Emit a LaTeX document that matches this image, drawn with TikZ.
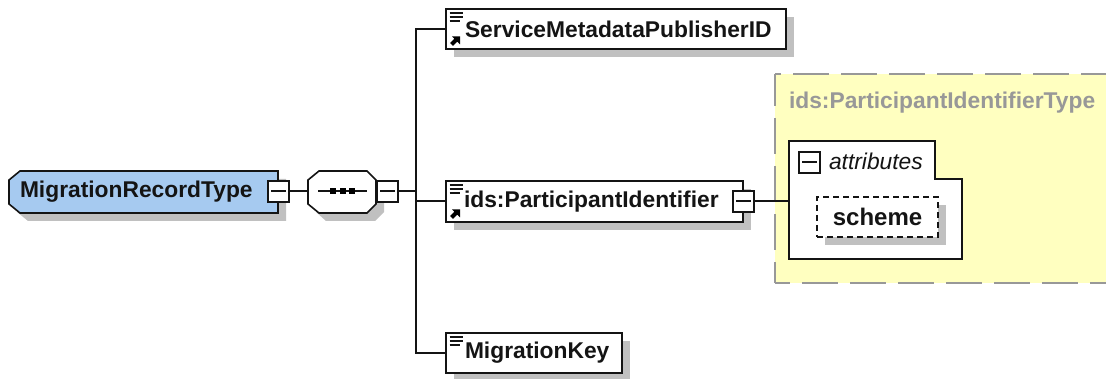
\documentclass[tikz,border=0pt]{standalone}
\usepackage{fontspec}
\setmainfont{Liberation Sans}
\definecolor{rootblue}{HTML}{A6CAF0}
\definecolor{shadowgray}{HTML}{C0C0C0}
\definecolor{typeyellow}{HTML}{FFFFC0}
\definecolor{typegray}{HTML}{989898}
\definecolor{inkdark}{HTML}{141414}
\tikzset{
  x=1pt,y=-1pt,
  every node/.style={inner sep=0pt,outer sep=0pt},
  wire/.style={draw=inkdark,line width=1.6pt},
  outline/.style={draw=inkdark,line width=1.6pt},
  shade/.style={fill=shadowgray},
  boxlabel/.style={font=\fontsize{22.8}{23}\selectfont\bfseries,text=inkdark,anchor=west},
  place/.style={rectangle,anchor=north west},
  elem/.style={place,outline,fill=white},
  expander/.style={place,outline,fill=white,minimum width=21pt,minimum height=21pt,
    path picture={\draw[inkdark,line width=1.6pt]
      ([xshift=3pt,yshift=0.5pt]path picture bounding box.west) -- ([xshift=-3pt,yshift=0.5pt]path picture bounding box.east);}},
  panelline/.style={draw=typegray,line width=1.7pt},
}
\newcommand{\docmark}[2]{%
  \draw[inkdark,line width=1.7pt] (#1+3.5,#2+4) -- ++(13,0);
  \draw[inkdark,line width=1.7pt] (#1+3.5,#2+8) -- ++(13,0);
  \draw[inkdark,line width=1.7pt] (#1+3.5,#2+12) -- ++(10,0);
}
\newcommand{\refmark}[2]{%
  \fill[black] (#1+6,#2-12.5) -- (#1+14,#2-12.5) -- (#1+14,#2-4.5) -- (#1+11.2,#2-7.3) -- (#1+7,#2-3) -- (#1+4,#2-6) -- (#1+8.3,#2-10.2) -- cycle;
}
\begin{document}
\begin{tikzpicture}
\useasboundingbox (0,0) rectangle (1106,379);
% yellow type panel
\fill[typeyellow] (775,74) rectangle (1106,283);
\draw[panelline,dash pattern=on 36pt off 12pt,dash phase=30pt] (775,74) -- (1106,74);
\draw[panelline,dash pattern=on 36pt off 12pt,dash phase=4pt] (775,74) -- (775,283);
\draw[panelline,dash pattern=on 36pt off 12pt,dash phase=21pt] (775,283) -- (1106,283);
\node[anchor=west,font=\fontsize{22.8}{23}\selectfont\bfseries,text=typegray] (typename) at (789,103) {ids:ParticipantIdentifierType};

% shadows
\fill[shade] (9+8,171+8) -- (20+8,171+8) -- (278+8,171+8) -- (278+8,213+8) -- (20+8,213+8) -- (9+8,204+8) -- cycle;
\fill[shade] (318+8,171+8) -- (367+8,171+8) -- (376+8,180+8) -- (376+8,204+8) -- (367+8,213+8) -- (318+8,213+8) -- (308+8,204+8) -- (308+8,180+8) -- cycle;
\fill[shade] (454,17) rectangle (794,57);
\fill[shade] (454,189) rectangle (751,230);
\fill[shade] (454,341) rectangle (630,379);

% main shapes
\node[place,minimum width=269pt,minimum height=42pt] (root) at (9,171) {};
\draw[outline,fill=rootblue] (20,171) -- (root.north east) -- (root.south east) -- (20,213) -- (9,204) -- (9,180) -- cycle;
\node[boxlabel] (rootlabel) at (20,191.5) {MigrationRecordType};
\node[place,minimum width=68pt,minimum height=42pt] (seq) at (308,171) {};
\draw[outline,fill=white] (319,171) -- (367,171) -- (376,180) -- (376,204) -- (367,213) -- (319,213) -- (308,204) -- (308,180) -- cycle;
\node[elem,minimum width=340pt,minimum height=40pt] (publisher) at (446,9) {};
\node[elem,minimum width=297pt,minimum height=41pt] (participant) at (446,181) {};
\node[elem,minimum width=176pt,minimum height=40pt] (migkey) at (446,333) {};
\node[expander] (rootexp) at (268,181) {};
\node[expander] (seqexp) at (377,181) {};
\node[expander] (partexp) at (733,191) {};

% attributes group
\node[place,minimum width=173pt,minimum height=118pt] (attrs) at (789,141) {};
\draw[outline,fill=white] (attrs.north west) -- (935,141) -- (935,179) -- (962,179) -- (attrs.south east) -- (attrs.south west) -- cycle;
\node[expander] (attrexp) at (799,152) {};
\node[anchor=west,font=\fontsize{22.8}{23}\selectfont\itshape,text=inkdark] (attrlabel) at (829,161.5) {attributes};
\fill[shade] (825,205) rectangle (946,245);
\node[place,outline,dash pattern=on 6pt off 4pt,fill=white,minimum width=121pt,minimum height=40pt] (scheme) at (817,197) {};
\node[anchor=center,font=\fontsize{24}{24}\selectfont\bfseries,text=inkdark] (schemelabel) at (scheme.center) {scheme};

% labels
\node[boxlabel] (publabel) at (465,29) {ServiceMetadataPublisherID};
\node[boxlabel] (partlabel) at (464,201.5) {ids:ParticipantIdentifier};
\node[boxlabel] (keylabel) at (465,353) {MigrationKey};

% marks
\docmark{446}{9}
\docmark{446}{181}
\docmark{446}{333}
\refmark{446}{49}
\refmark{446}{222}

% sequence glyph
\draw[inkdark,line width=1.6pt] (318,191) -- (367,191);
\foreach \px in {333,343,352} \fill[black] (\px-3,188) rectangle (\px+3,194);

% connectors
\coordinate (spine) at (416,191);
\coordinate (partwire) at (446,201);
\draw[wire] (rootexp.east |- spine) -- (seq.west |- spine);
\draw[wire] (seqexp.east |- spine) -- (spine);
\draw[wire] (spine) |- (publisher.west);
\draw[wire] (spine) |- (migkey.west);
\draw[wire] (spine) |- (partwire);
\draw[wire] (partexp.east |- partwire) -- (attrs.west |- partwire);
\end{tikzpicture}
\end{document}
